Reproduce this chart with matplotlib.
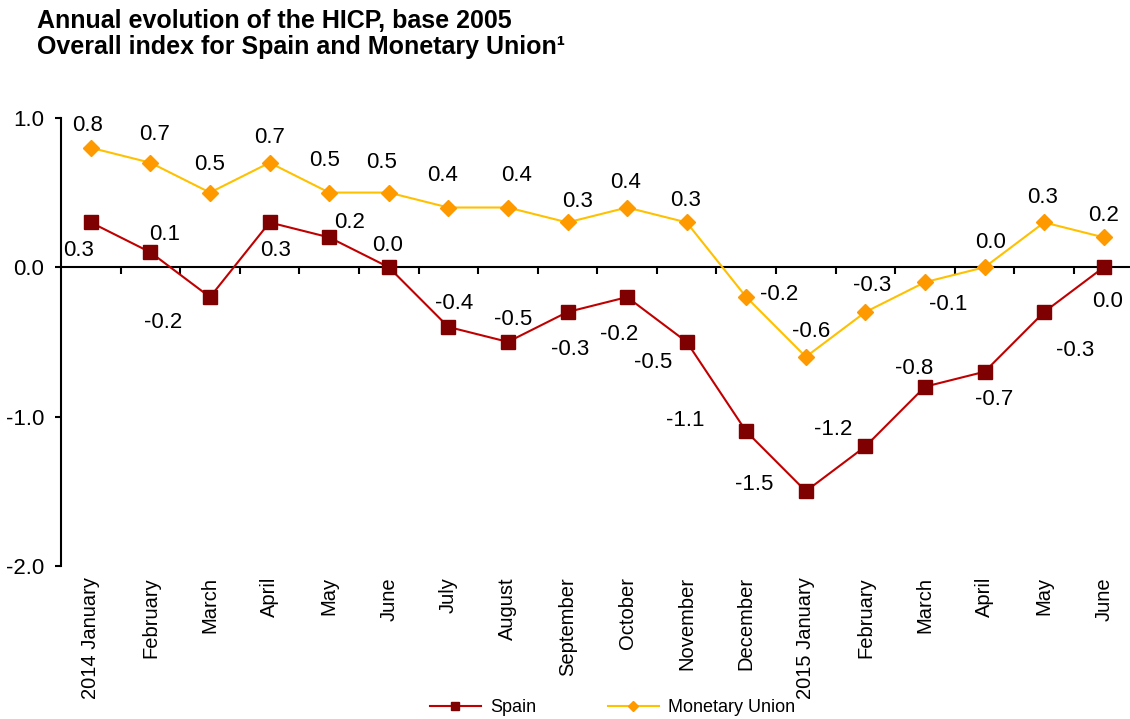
import matplotlib
matplotlib.use('Agg')
import matplotlib.pyplot as plt

plt.rcParams['font.family'] = ['Liberation Sans', 'DejaVu Sans']

# Données
months = ['2014 January', 'February', 'March', 'April', 'May', 'June', 'July',
          'August', 'September', 'October', 'November', 'December',
          '2015 January', 'February', 'March', 'April', 'May', 'June']
spain = [0.3, 0.1, -0.2, 0.3, 0.2, 0.0, -0.4, -0.5, -0.3, -0.2, -0.5, -1.1,
         -1.5, -1.2, -0.8, -0.7, -0.3, 0.0]
union = [0.8, 0.7, 0.5, 0.7, 0.5, 0.5, 0.4, 0.4, 0.3, 0.4, 0.3, -0.2,
         -0.6, -0.3, -0.1, 0.0, 0.3, 0.2]

# décalage des étiquettes (en points)
spain_off = [(-9, -20), (10, 13), (-34, -18), (4, -20), (15, 11), (-1, 16),
             (4, 17), (4, 16), (2, -27), (-6, -27), (-24, -15), (-44, 8),
             (-37, 5), (-23, 12), (-8, 13), (7, -20), (22, -28), (3, -25)]
union_off = [(-2, 16), (3, 20), (0, 20), (0, 18), (-3, 23), (-5, 22), (-4, 23),
             (6, 23), (7, 15), (-1, 18), (-1, 16), (24, 2), (4, 18), (5, 19),
             (17, -16), (4, 18), (-1, 18), (0, 16)]

fig = plt.figure(figsize=(11.3, 7.19), dpi=100)
ax = fig.add_axes([0.054, 0.213, 0.946, 0.623])

x = list(range(len(months)))
ax.plot(x, spain, color='#C00000', lw=1.5, marker='s', ms=10,
        mfc='#7F0000', mec='#7F0000', label='Spain', zorder=3)
ax.plot(x, union, color='#FFC000', lw=1.5, marker='D', ms=8,
        mfc='#FF9900', mec='#FF9900', label='Monetary Union', zorder=3)

for i in x:
    ax.annotate(f'{spain[i]:.1f}', (i, spain[i]), xytext=spain_off[i],
                textcoords='offset points', ha='center', va='center', fontsize=16)
    ax.annotate(f'{union[i]:.1f}', (i, union[i]), xytext=union_off[i],
                textcoords='offset points', ha='center', va='center', fontsize=16)

ax.set_ylim(-2, 1)
ax.set_xlim(-0.5, 17.44)
ax.set_yticks([-2, -1, 0, 1])
ax.set_yticklabels(['-2.0', '-1.0', '0.0', '1.0'], fontsize=16)
ax.tick_params(axis='y', length=4, width=1.5, pad=8)

ax.spines['top'].set_visible(False)
ax.spines['right'].set_visible(False)
ax.spines['left'].set_linewidth(1.5)
ax.spines['bottom'].set_position(('data', 0))
ax.spines['bottom'].set_linewidth(1.5)
ax.set_xticks([i - 0.5 for i in range(1, len(months))])
ax.set_xticklabels([])
ax.tick_params(axis='x', length=5, width=1.5, direction='out')

# étiquettes des mois en bas
sec = ax.secondary_xaxis('bottom')
sec.set_xticks(x)
sec.set_xticklabels(months, rotation=90, fontsize=14.5, va='top', ha='center')
sec.tick_params(length=0, pad=8)
sec.spines['bottom'].set_visible(False)

fig.text(0.033, 0.988, 'Annual evolution of the HICP, base 2005\n'
         'Overall index for Spain and Monetary Union\u00b9',
         fontsize=18, fontweight='bold', va='top', ha='left', linespacing=1.1)

fig.legend(loc='center', bbox_to_anchor=(0.542, 0.016), ncol=2,
           frameon=False, fontsize=13, columnspacing=4, handlelength=2.8,
           handletextpad=0.5, markerscale=0.6, borderpad=0.1)

fig.savefig('out.png', dpi=100)
